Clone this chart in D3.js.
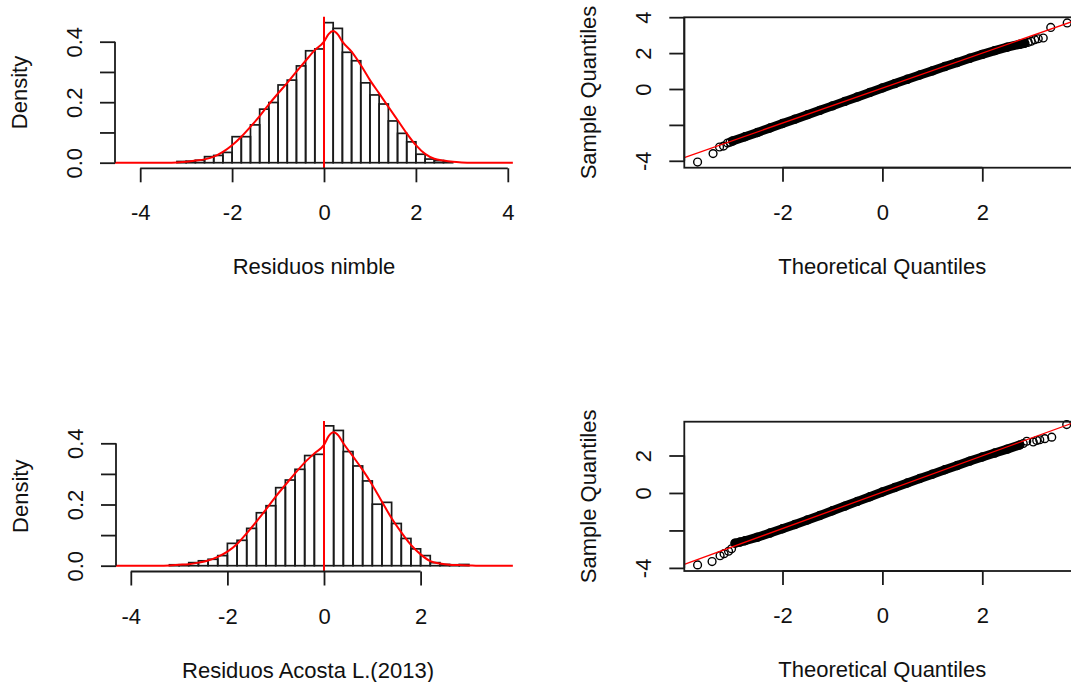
<!DOCTYPE html>
<html>
<head>
<meta charset="utf-8">
<script src="https://cdn.jsdelivr.net/npm/d3@7"></script>
<style>
  html, body { margin: 0; padding: 0; background: #fff; }
  text { font-family: "Liberation Sans", Arial, sans-serif; font-size: 22px; fill: #111; }
</style>
</head>
<body>
<svg id="chart" width="1071" height="682"></svg>
<script>
// ---------------- DATA ----------------
// Histogram 1: "Residuos nimble"
const hist1Breaks = [-3.2,-3.0,-2.8,-2.6,-2.4,-2.2,-2.0,-1.8,-1.6,-1.4,-1.2,-1.0,-0.8,-0.6,-0.4,-0.2,0.0,0.2,0.4,0.6,0.8,1.0,1.2,1.4,1.6,1.8,2.0,2.2,2.4,2.6,2.8];
const hist1Density = [0.004,0.005,0.008,0.020,0.024,0.034,0.086,0.086,0.125,0.177,0.199,0.257,0.273,0.320,0.370,0.376,0.463,0.444,0.365,0.337,0.264,0.224,0.194,0.138,0.097,0.069,0.028,0.012,0.007,0.003];
const dens1X = [-4.55,-3.4,-3.2,-3.0,-2.8,-2.6,-2.4,-2.2,-2.0,-1.8,-1.6,-1.4,-1.2,-1.0,-0.8,-0.6,-0.4,-0.2,0.0,0.1,0.2,0.3,0.4,0.6,0.8,1.0,1.2,1.4,1.6,1.8,2.0,2.2,2.4,2.6,2.8,3.0,3.2,4.11];
const dens1Y = [0,0,0.001,0.003,0.007,0.011,0.020,0.036,0.058,0.086,0.119,0.154,0.193,0.229,0.264,0.301,0.337,0.372,0.400,0.425,0.435,0.424,0.400,0.367,0.323,0.273,0.229,0.185,0.141,0.097,0.058,0.029,0.013,0.007,0.003,0.001,0,0];

// Histogram 2: "Residuos Acosta L.(2013)"
const hist2Breaks = [-3.2,-3.0,-2.8,-2.6,-2.4,-2.2,-2.0,-1.8,-1.6,-1.4,-1.2,-1.0,-0.8,-0.6,-0.4,-0.2,0.0,0.2,0.4,0.6,0.8,1.0,1.2,1.4,1.6,1.8,2.0,2.2,2.4,2.6,2.8,3.0];
const hist2Density = [0.003,0.003,0.010,0.016,0.021,0.033,0.073,0.083,0.122,0.173,0.196,0.255,0.280,0.315,0.360,0.364,0.457,0.442,0.373,0.326,0.277,0.201,0.207,0.138,0.089,0.055,0.033,0.010,0.004,0.003,0.004];
const dens2X = [-4.31,-3.4,-3.2,-3.0,-2.8,-2.6,-2.4,-2.2,-2.0,-1.8,-1.6,-1.4,-1.2,-1.0,-0.8,-0.6,-0.4,-0.2,0.0,0.1,0.2,0.3,0.4,0.6,0.8,1.0,1.2,1.4,1.6,1.8,2.0,2.2,2.4,2.6,2.8,3.0,3.2,3.91];
const dens2Y = [0,0,0.001,0.003,0.005,0.010,0.017,0.029,0.046,0.071,0.106,0.144,0.184,0.226,0.264,0.302,0.337,0.367,0.395,0.424,0.436,0.425,0.400,0.357,0.313,0.264,0.209,0.155,0.109,0.068,0.037,0.015,0.007,0.003,0.002,0.001,0,0];

const histVLine = 0;

// Q-Q plot 1
const qq1BandX = [-3.0,-2.75,-2.5,-2.25,-2.0,-1.75,-1.5,-1.25,-1.0,-0.75,-0.5,-0.25,0,0.25,0.5,0.75,1.0,1.25,1.5,1.75,2.0,2.25,2.5,2.75,2.85];
const qq1BandY = [-2.90,-2.66,-2.42,-2.17,-1.92,-1.68,-1.43,-1.19,-0.94,-0.69,-0.44,-0.19,0.06,0.30,0.54,0.78,1.01,1.25,1.48,1.71,1.93,2.14,2.33,2.49,2.55];
const qq1TailX = [-3.70,-3.39,-3.26,-3.18,-3.10,-3.05,2.92,2.98,3.05,3.12,3.22,3.37,3.70];
const qq1TailY = [-4.07,-3.60,-3.23,-3.18,-3.01,-2.96,2.60,2.66,2.75,2.80,2.84,3.43,3.68];
const qq1Line = {intercept: 0.05, slope: 0.975};

// Q-Q plot 2
const qq2BandX = [-2.95,-2.85,-2.75,-2.5,-2.25,-2.0,-1.75,-1.5,-1.25,-1.0,-0.75,-0.5,-0.25,0,0.25,0.5,0.75,1.0,1.25,1.5,1.75,2.0,2.25,2.5,2.75];
const qq2BandY = [-2.68,-2.62,-2.55,-2.36,-2.14,-1.91,-1.68,-1.44,-1.20,-0.95,-0.70,-0.45,-0.20,0.05,0.29,0.53,0.77,1.00,1.24,1.47,1.70,1.92,2.13,2.34,2.56];
const qq2TailX = [-3.70,-3.41,-3.25,-3.17,-3.08,-3.02,2.82,2.89,3.02,3.09,3.15,3.25,3.39,3.69];
const qq2TailY = [-3.84,-3.66,-3.35,-3.24,-3.11,-2.98,2.64,2.76,2.72,2.80,2.84,2.90,2.98,3.65];
const qq2Line = {intercept: 0.04, slope: 0.97};

// Ticks and labels
const hist1XTicks = [-4,-2,0,2,4];
const hist1XLabels = ["-4","-2","0","2","4"];
const hist2XTicks = [-4,-2,0,2];
const hist2XLabels = ["-4","-2","0","2"];
const histYTicks = [0,0.1,0.2,0.3,0.4];
const histYLabels = ["0.0","","0.2","","0.4"];
const qqXTicks = [-2,0,2];
const qqXLabels = ["-2","0","2"];
const qq1YTicks = [-4,-2,0,2,4];
const qq1YLabels = ["-4","","0","2","4"];
const qq2YTicks = [-4,-2,0,2];
const qq2YLabels = ["-4","","0","2"];

const titles = {
  hist1X: "Residuos nimble", hist2X: "Residuos Acosta L.(2013)",
  histY: "Density", qqX: "Theoretical Quantiles", qqY: "Sample Quantiles"
};

// ---------------- DRAW ----------------
const svg = d3.select("#chart");
svg.append("rect").attr("width",1071).attr("height",682).attr("fill","#fff");

const INK = "#1a1a1a";
const RED = "#ff0000";

function xAxisR(g, scale, ticks, labels, y, lineFromTo) {
  const ax = g.append("g").attr("transform", `translate(0,${y})`);
  ax.append("line")
    .attr("x1", scale(lineFromTo[0])).attr("x2", scale(lineFromTo[1]))
    .attr("stroke", INK).attr("stroke-width", 1.8);
  const axis = d3.axisBottom(scale).tickValues(ticks).tickSize(14)
    .tickFormat((d,i) => labels[i]);
  const a = ax.append("g").call(axis);
  a.select(".domain").remove();
  a.selectAll(".tick line").attr("stroke", INK).attr("stroke-width", 1.8);
  a.selectAll(".tick text").attr("y", 52).attr("dy", 0)
    .style("font-family", '"Liberation Sans", Arial, sans-serif').style("font-size","22px").attr("fill","#111");
}
function yAxisR(g, scale, ticks, labels, x, lineFromTo) {
  const ax = g.append("g").attr("transform", `translate(${x},0)`);
  ax.append("line")
    .attr("y1", scale(lineFromTo[0])).attr("y2", scale(lineFromTo[1]))
    .attr("stroke", INK).attr("stroke-width", 1.8);
  const axis = d3.axisLeft(scale).tickValues(ticks).tickSize(15)
    .tickFormat((d,i) => labels[i]);
  const a = ax.append("g").call(axis);
  a.select(".domain").remove();
  a.selectAll(".tick line").attr("stroke", INK).attr("stroke-width", 1.8);
  a.selectAll(".tick text").attr("x", 0).attr("y", 0).attr("dy", 0)
    .attr("transform", "translate(-33,0) rotate(-90)")
    .attr("text-anchor", "middle")
    .style("font-family", '"Liberation Sans", Arial, sans-serif').style("font-size","22px").attr("fill","#111");
}

function histPanel(cfg) {
  const g = svg.append("g");
  const x = d3.scaleLinear().domain(cfg.xDom).range(cfg.xRng);
  const y = d3.scaleLinear().domain([0,0.4]).range(cfg.yRng);
  const R = cfg.region;
  const bins = cfg.density.map((d,i) => ({x0: cfg.breaks[i], x1: cfg.breaks[i+1], d}));
  g.selectAll("rect.bar").data(bins).enter().append("rect")
    .attr("class","bar")
    .attr("x", b => x(b.x0)).attr("width", b => x(b.x1) - x(b.x0))
    .attr("y", b => y(b.d)).attr("height", b => y(0) - y(b.d))
    .attr("fill","none").attr("stroke", INK).attr("stroke-width", 1.7);
  const line = d3.line().x(d => x(d[0])).y(d => y(d[1])).curve(d3.curveMonotoneX);
  g.append("path").datum(cfg.densX.map((v,i) => [v, cfg.densY[i]]))
    .attr("d", line).attr("fill","none").attr("stroke", RED).attr("stroke-width", 2);
  g.append("line").attr("x1", x(histVLine)).attr("x2", x(histVLine))
    .attr("y1", R.top).attr("y2", R.bottom).attr("stroke", RED).attr("stroke-width", 2);
  xAxisR(g, x, cfg.xTicks, cfg.xLabels, R.bottom, [cfg.xTicks[0], cfg.xTicks[cfg.xTicks.length-1]]);
  yAxisR(g, y, histYTicks, histYLabels, R.left, [0, 0.4]);
  g.append("text").attr("x", cfg.titleX).attr("y", R.bottom + 106)
    .attr("text-anchor","middle").text(cfg.xTitle);
  g.append("text").attr("transform", `translate(${R.left - 88},${(R.top + R.bottom)/2}) rotate(-90)`)
    .attr("text-anchor","middle").text(titles.histY);
}

function qqPanel(cfg) {
  const g = svg.append("g");
  const x = d3.scaleLinear().domain([-2,2]).range([782.5, 982.3]);
  const y = d3.scaleLinear().domain(cfg.yDom).range(cfg.yRng);
  const R = cfg.region;
  const clipId = "clip" + cfg.id;
  svg.append("clipPath").attr("id", clipId).append("rect")
    .attr("x", R.left).attr("y", R.top).attr("width", R.right - R.left).attr("height", R.bottom - R.top);
  const band = cfg.bandX.map((v,i) => [v, cfg.bandY[i]]);
  const line = d3.line().x(d => x(d[0])).y(d => y(d[1]));
  g.append("path").datum(band).attr("d", line).attr("fill","none")
    .attr("stroke", "#000").attr("stroke-width", 9).attr("stroke-linecap","round");
  g.selectAll("circle.band").data(band).enter().append("circle").attr("class","band")
    .attr("cx", d => x(d[0])).attr("cy", d => y(d[1])).attr("r", 4)
    .attr("fill","none").attr("stroke","#000").attr("stroke-width", 1.4);
  const tails = cfg.tailX.map((v,i) => [v, cfg.tailY[i]]);
  g.selectAll("circle.tail").data(tails).enter().append("circle").attr("class","tail")
    .attr("cx", d => x(d[0])).attr("cy", d => y(d[1])).attr("r", 3.9)
    .attr("fill","none").attr("stroke","#000").attr("stroke-width", 1.4);
  const xd = [x.invert(R.left), x.invert(R.right)];
  g.append("line").attr("clip-path", `url(#${clipId})`)
    .attr("x1", x(xd[0])).attr("y1", y(cfg.qqline.intercept + cfg.qqline.slope * xd[0]))
    .attr("x2", x(xd[1])).attr("y2", y(cfg.qqline.intercept + cfg.qqline.slope * xd[1]))
    .attr("stroke", RED).attr("stroke-width", 1.3);
  g.append("rect").attr("x", R.left).attr("y", R.top)
    .attr("width", R.right - R.left).attr("height", R.bottom - R.top)
    .attr("fill","none").attr("stroke", INK).attr("stroke-width", 1.8);
  xAxisR(g, x, qqXTicks, qqXLabels, R.bottom, [qqXTicks[0], qqXTicks[qqXTicks.length-1]]);
  yAxisR(g, y, cfg.yTicks, cfg.yLabels, R.left, [cfg.yTicks[0], cfg.yTicks[cfg.yTicks.length-1]]);
  g.append("text").attr("x", (R.left + R.right)/2).attr("y", R.bottom + 106)
    .attr("text-anchor","middle").text(titles.qqX);
  g.append("text").attr("transform", `translate(${R.left - 88},${(R.top + R.bottom)/2}) rotate(-90)`)
    .attr("text-anchor","middle").text(titles.qqY);
}

histPanel({
  breaks: hist1Breaks, density: hist1Density, densX: dens1X, densY: dens1Y,
  xDom: [-4,4], xRng: [140.2, 507.8], yRng: [162.7, 41.7],
  region: {left: 115, right: 513, top: 16.7, bottom: 168.3}, titleX: 314,
  xTicks: hist1XTicks, xLabels: hist1XLabels, xTitle: titles.hist1X
});
histPanel({
  breaks: hist2Breaks, density: hist2Density, densX: dens2X, densY: dens2Y,
  xDom: [-4,2], xRng: [130.8, 420.6], yRng: [565.7, 443.3],
  region: {left: 116, right: 513, top: 421, bottom: 571.5}, titleX: 308,
  xTicks: hist2XTicks, xLabels: hist2XLabels, xTitle: titles.hist2X
});
qqPanel({
  id: 1, bandX: qq1BandX, bandY: qq1BandY, tailX: qq1TailX, tailY: qq1TailY, qqline: qq1Line,
  yDom: [-4,4], yRng: [160.8, 17.2],
  region: {left: 684.3, right: 1080.3, top: 17.3, bottom: 167.7},
  yTicks: qq1YTicks, yLabels: qq1YLabels
});
qqPanel({
  id: 2, bandX: qq2BandX, bandY: qq2BandY, tailX: qq2TailX, tailY: qq2TailY, qqline: qq2Line,
  yDom: [-4,2], yRng: [567.9, 455.5],
  region: {left: 684.3, right: 1080.3, top: 421.7, bottom: 571},
  yTicks: qq2YTicks, yLabels: qq2YLabels
});
</script>
</body>
</html>
